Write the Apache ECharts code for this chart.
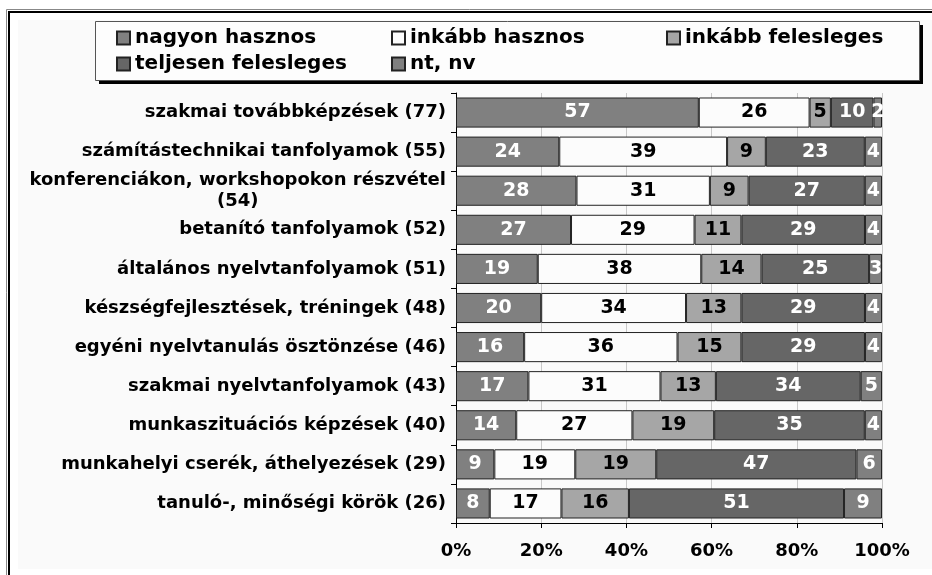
<!DOCTYPE html>
<html>
<head>
<meta charset="utf-8">
<script src="https://cdn.jsdelivr.net/npm/echarts@6/dist/echarts.min.js"></script>
<style>
  html, body { margin: 0; padding: 0; background: #ffffff; }
  #chart { width: 932px; height: 575px; }
</style>
</head>
<body>
<div id="chart"></div>
<script>
// kategóriák (felülről lefelé)
const categories = [
  'szakmai továbbképzések (77)',
  'számítástechnikai tanfolyamok (55)',
  'konferenciákon, workshopokon részvétel\n(54)',
  'betanító tanfolyamok (52)',
  'általános nyelvtanfolyamok (51)',
  'készségfejlesztések, tréningek (48)',
  'egyéni nyelvtanulás ösztönzése (46)',
  'szakmai nyelvtanfolyamok (43)',
  'munkaszituációs képzések (40)',
  'munkahelyi cserék, áthelyezések (29)',
  'tanuló-, minőségi körök (26)',
];
const seriesNames = ['nagyon hasznos', 'inkább hasznos', 'inkább felesleges', 'teljesen felesleges', 'nt, nv'];
const nagyonHasznos = [57, 24, 28, 27, 19, 20, 16, 17, 14, 9, 8];
const inkabbHasznos = [26, 39, 31, 29, 38, 34, 36, 31, 27, 19, 17];
const inkabbFelesleges = [5, 9, 9, 11, 14, 13, 15, 13, 19, 19, 16];
const teljesenFelesleges = [10, 23, 27, 29, 25, 29, 29, 34, 35, 47, 51];
const ntNv = [2, 4, 4, 4, 3, 4, 4, 5, 4, 6, 9];
const xTicks = [0, 20, 40, 60, 80, 100];

const raw = [nagyonHasznos, inkabbHasznos, inkabbFelesleges, teljesenFelesleges, ntNv];
const colors = ['#808080', '#fcfcfc', '#a6a6a6', '#666666', '#808080'];
const labelColors = ['#ffffff', '#000000', '#000000', '#ffffff', '#ffffff'];
const FONT = 'DejaVu Sans';

// 100%-ra normált hosszak (Excel 100% halmozott)
const sums = categories.map((c, i) => raw.reduce((s, arr) => s + arr[i], 0));

const chart = echarts.init(document.getElementById('chart'));

const series = raw.map((arr, k) => ({
  name: seriesNames[k],
  type: 'bar',
  stack: 'total',
  barCategoryGap: '23%',
  data: arr.map((v, i) => ({ value: v / sums[i] * 100, raw: v })),
  itemStyle: { color: colors[k], borderColor: '#222', borderWidth: 1 },
  label: {
    show: true,
    position: 'inside',
    color: labelColors[k],
    fontFamily: FONT,
    fontWeight: 'bold',
    fontSize: 19,
    formatter: p => p.data.raw,
  },
  emphasis: { disabled: true },
}));

const legendPos = [
  [111, 23], [386, 23], [661, 23],
  [111, 49], [386, 49],
];
const legends = seriesNames.map((n, k) => ({
  data: [n],
  left: legendPos[k][0],
  top: legendPos[k][1],
  icon: 'rect',
  itemWidth: 13,
  itemHeight: 13,
  itemGap: 6,
  selectedMode: false,
  textStyle: { fontFamily: FONT, fontWeight: 'bold', fontSize: 20, color: '#000' },
}));

chart.setOption({
  animation: false,
  backgroundColor: '#ffffff',
  graphic: [
    { type: 'rect', shape: { x: 6.5, y: 9.5, width: 1000, height: 1000 }, style: { fill: 'none', stroke: '#888', lineWidth: 1 } },
    { type: 'rect', shape: { x: 9, y: 12, width: 1000, height: 1000 }, style: { fill: 'none', stroke: '#000', lineWidth: 2 } },
    { type: 'rect', shape: { x: 18, y: 20, width: 1000, height: 549 }, style: { fill: '#fafafa' } },
    { type: 'rect', shape: { x: 99, y: 25, width: 824, height: 59 }, style: { fill: '#000' } },
    { type: 'rect', shape: { x: 95.5, y: 21.5, width: 824, height: 59 }, style: { fill: '#fdfdfd', stroke: '#555', lineWidth: 1 } },
  ],
  legend: legends,
  grid: {
    left: 456, right: 50, top: 93, bottom: 52,
    show: true, borderColor: '#888', borderWidth: 1,
  },
  xAxis: {
    type: 'value',
    min: xTicks[0],
    max: xTicks[xTicks.length - 1],
    interval: 20,
    axisLine: { show: true, lineStyle: { color: '#000' } },
    axisTick: { show: true, length: 5, lineStyle: { color: '#000' } },
    splitLine: { show: true, lineStyle: { color: '#c8c8c8' } },
    axisLabel: {
      margin: 19,
      fontFamily: FONT, fontWeight: 'bold', fontSize: 18, color: '#000',
      formatter: '{value}%',
    },
  },
  yAxis: {
    type: 'category',
    inverse: true,
    data: categories,
    axisLine: { show: true, lineStyle: { color: '#000' } },
    axisTick: { show: true, length: 5, lineStyle: { color: '#000' } },
    axisLabel: {
      margin: 10,
      fontFamily: FONT, fontWeight: 'bold', fontSize: 18, color: '#000', lineHeight: 21,
      formatter: v => v.split('\n').map(s => '{c|' + s + '}').join('\n'),
      rich: {
        c: { align: 'center', fontFamily: FONT, fontWeight: 'bold', fontSize: 18, color: '#000', lineHeight: 21 },
      },
    },
  },
  series: series,
});
</script>
</body>
</html>
